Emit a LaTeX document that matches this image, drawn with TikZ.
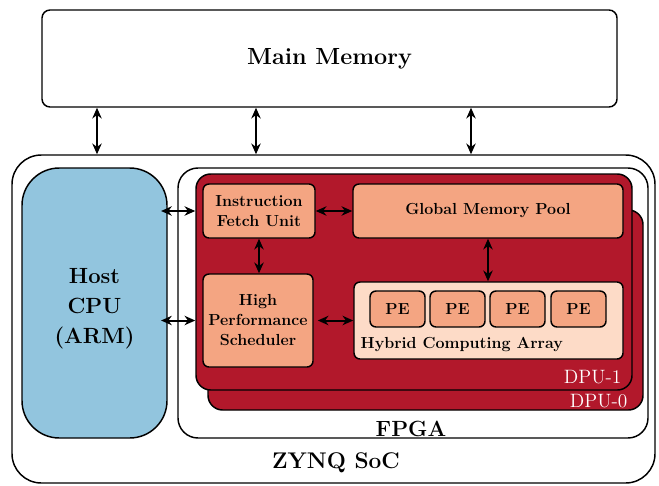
\documentclass[tikz,border=0pt]{standalone}
\usetikzlibrary{arrows.meta,fit}

\definecolor{hostblue}{RGB}{146,197,222}
\definecolor{dpured}{RGB}{178,24,43}
\definecolor{peach}{RGB}{244,165,130}
\definecolor{lightpeach}{RGB}{253,219,199}

\tikzset{every picture/.style={line width=1.1pt}}

\begin{document}
\begin{tikzpicture}[x=0.75pt,y=0.75pt,yscale=-1,
  frame/.style={draw,inner sep=0pt},
  blk/.style={frame,fill=peach,rounded corners=4.5pt},
  unit/.style={align=center,font=\fontsize{12}{15}\selectfont\bfseries},
  big/.style={align=center,font=\fontsize{16.5}{22.5}\selectfont\bfseries},
  dpulbl/.style={text=white,inner sep=0pt,font=\fontsize{14.5}{16}\selectfont},
  dbl/.style={{Stealth[length=8pt,width=7pt,inset=2.5pt]}-{Stealth[length=8pt,width=7pt,inset=2.5pt]},line width=1.5pt}]
\useasboundingbox (0,0) rectangle (659,485);

%Main memory
\node (mem) [frame,rounded corners=6pt,fit={(42,10) (617,107)},
  label={[big,font=\fontsize{17.5}{22}\selectfont\bfseries]center:Main Memory}] {};

%ZYNQ SoC
\node (soc) [frame,rounded corners=22pt,fit={(12,155) (655,483)}] {};
\node (soclbl) [big,anchor=base,inner sep=0pt,font=\fontsize{17}{22}\selectfont\bfseries] at (336,468) {ZYNQ SoC};

%Host CPU
\node (host) [frame,fill=hostblue,rounded corners=28pt,fit={(22,168) (167,438)}] {};
\node (hostlbl) [big] at (94.5,309) {Host\\CPU\\(ARM)};

%FPGA
\node (fpga) [frame,rounded corners=15pt,fit={(178,168) (648,438)}] {};
\node (fpgalbl) [big,anchor=base,inner sep=0pt] at (411,436) {FPGA};

%DPU stack
\node (dpu0) [frame,fill=dpured,rounded corners=11pt,fit={(208,210) (643,410)}] {};
\node (dpu1) [frame,fill=dpured,rounded corners=11pt,fit={(196,174) (632,390)}] {};
\node (dpu1lbl) [dpulbl,anchor=base east] at (622,383) {DPU-1};
\node (dpu0lbl) [dpulbl,anchor=base east] at (628,407) {DPU-0};

%Units inside the DPU
\node (ifu) [blk,fit={(203,184) (315,238)},label={[unit]center:Instruction\\Fetch Unit}] {};
\node (gmp) [blk,fit={(353,184) (623,238)},label={[unit]center:Global Memory Pool}] {};
\node (hps) [blk,fit={(203,274) (313,367)},label={[unit]center:High\\Performance\\Scheduler}] {};
\node (hca) [blk,fill=lightpeach,fit={(354,282) (623,359)}] {};
\node (hcalbl) [unit,anchor=base west,inner sep=0pt] at (360,348) {Hybrid Computing Array};
\foreach \i/\x in {1/370,2/430,3/490,4/551}
  \node (pe\i) [blk,fit={(\x,291) (\x+55,327)},label={[unit]center:PE}] {};

%Memory links
\coordinate (m1) at (97,0);
\coordinate (m2) at (256,0);
\coordinate (m3) at (471,0);
\foreach \c in {m1,m2,m3}
  \draw [dbl] (mem.south -| \c) -- (soc.north -| \c);

%Host links
\draw [dbl,shorten <=-5pt] (host.east |- ifu) -- (dpu1.west |- ifu);
\draw [dbl,shorten <=-5pt] (host.east |- hps) -- (dpu1.west |- hps);

%Internal links
\draw [dbl] (ifu) -- (gmp);
\draw [dbl] (ifu.south) -- (ifu.south |- hps.north);
\draw [dbl] (gmp.south) -- (gmp.south |- hca.north);
\draw [dbl,shorten <=3pt] (hps.east) -- (hps.east -| hca.west);

\end{tikzpicture}
\end{document}
